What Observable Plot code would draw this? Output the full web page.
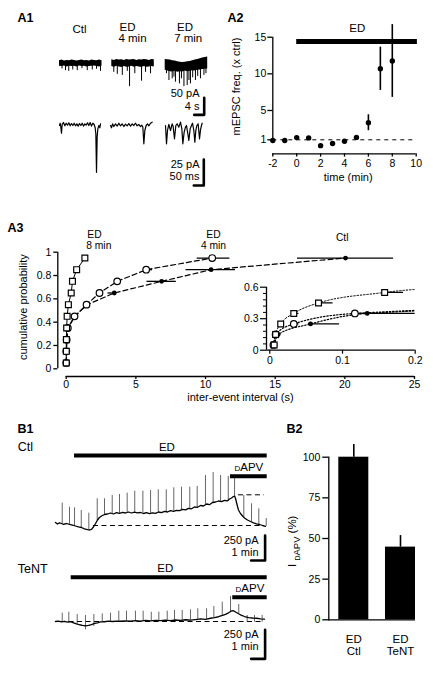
<!DOCTYPE html>
<html><head><meta charset="utf-8">
<script src="https://cdn.jsdelivr.net/npm/d3@7"></script>
<script src="https://cdn.jsdelivr.net/npm/@observablehq/plot@0.6"></script>
<style>
body{margin:0;background:#fff}
#fig{position:relative;width:433px;height:674px;background:#fff}
#fig svg{position:absolute;left:0;top:0;overflow:visible}
</style></head><body><div id="fig"></div>
<script>
// ---------------- DATA ----------------
// A1 slow sweeps (time s, current pA): noise band edges and downward events
const a1BandTime = [0,1,2,3,4,5,6,7,8,9,10,11,12,13,14,15,16,17];
const a1CtlHi = [8,10,7,9,8,10,9,7,9,10,8,9,7,10,9,8,10,8];
const a1CtlLo = [-8,-9,-7,-10,-8,-9,-8,-10,-7,-9,-8,-10,-9,-8,-7,-9,-10,-8];
const a1Ed4Hi = [11,9,12,10,11,9,12,10,11,12,9,11,10,12,11,9,12,11];
const a1Ed4Lo = [-9,-11,-8,-10,-12,-9,-11,-10,-8,-11,-9,-10,-12,-9,-11,-10,-9,-10];
const a1Ed7Hi = [12,11,10,8,7,5,4,3,4,5,6,8,10,12,14,16,18,19];
const a1Ed7Lo = [-20,-22,-24,-25,-23,-26,-24,-25,-22,-24,-23,-21,-22,-20,-19,-18,-17,-16];
const a1CtlSpikeT = [1.0,2.4,3.7,5.3,7.1,9.0,11.1,13.1,14.8,16.4];
const a1CtlSpikeA = [-16,-21,-23,-19,-21,-15,-21,-19,-17,-23];
const a1Ed4SpikeT = [0.8,2.2,4.2,6.2,7.1,9.2,11.9,13.5,15.5];
const a1Ed4SpikeA = [-26,-32,-35,-23,-68,-30,-52,-26,-30];
const a1Ed7SpikeT = [0.5,1.5,2.8,3.5,4.1,5.7,6.5,7.5,8.8,9.5,10.1,11,12.1,13,14.1,15.5,16.3];
const a1Ed7SpikeA = [-30,-50,-45,-40,-55,-60,-45,-68,-65,-50,-60,-42,-50,-38,-45,-35,-30];
// A1 fast sweeps (time ms, current pA)
const a1CtlFastT = [0,3.3,6.7,10,13.3,20,26.7,33.3,40,46.7,53.3,60,66.7,73.3,80,86.7,93.3,100,106.7,113.3,120,126.7,133.3,140,146.7,153.3,160,166.7,173.3,178.3,181.7,185,188.3,191.7,196.7,201.7,205];
const a1CtlFastI = [0,2.2,-1.6,-7.4,1,2.9,-0.3,2.2,0.3,2.6,-0.3,1.9,0,2.2,-0.3,1.6,-0.6,1.9,0,2.2,-0.6,1.6,0.3,2.6,0,2.9,-0.6,2.2,1,-2.2,-8,-45,-11.2,-3.2,0,-2.2,1.6];
const a1Ed4FastT = [0,5,10,16.7,25,33.3,41.7,50,58.3,66.7,75,83.3,91.7,100,108.3,116.7,125,133.3,141.7,150,156.7,161.7,166.7,171.7,178.3,185,191.7,200,208.3];
const a1Ed4FastI = [0,-2.2,1.6,-1,1.6,-0.6,2.2,-0.3,1.6,-1,1.3,-0.3,1.9,-0.6,1.6,0,2.2,-0.3,1,-1,0.3,-1.6,-17.6,-4.8,0,1.6,-0.3,2.2,3.2];
const a1Ed7FastT = [0,5,10,16.7,25,33.3,38.3,45,51.7,58.3,66.7,75,81.7,86.7,93.3,100,105,111.7,116.7,123.3,130,135,141.7,146.7,151.7,156.7,163.3,170,175,180,183.3];
const a1Ed7FastI = [0,-17.6,-4.8,1,-4.8,1.6,-1,-12.8,0,1.6,-1.6,3.2,-3.2,-17.6,-6.4,-1.6,0,-8,-14.4,-3.2,0,2.2,-4.8,-16,-4.8,0,1.6,-12.8,-4.2,0,2.2];
const a1SlowBar = {pA: 50, s: 4};
const a1FastBar = {pA: 25, ms: 50};

// A2 mEPSC frequency (x ctrl) vs time (min)
const a2Time = [-2,-1,0,1,2,3,4,5,6,7,8];
const a2Freq = [0.9,0.9,1.3,1.26,0.2,0.5,0.8,1.33,3.33,10.7,11.76];
const a2Lo   = [0.9,0.9,1.3,1.26,0.2,0.5,0.8,1.33,2.24,7.74,6.79];
const a2Hi   = [0.9,0.9,1.3,1.26,0.2,0.5,0.8,1.33,4.41,13.64,16.72];
const a2EdStart = 0, a2EdEnd = 10.1;

// A3 cumulative probability vs inter-event interval (s)
const a3Prob  = [0.05,0.15,0.25,0.35,0.45,0.55,0.65,0.75,0.85,0.95];
const a3Ed8   = [0.006,0.008,0.015,0.033,0.067,0.158,0.36,0.45,0.75,1.34];
const a3Ed8Hi = [0.006,0.008,0.017,0.04,0.087,0.184,0.4,0.5,0.8,1.4];
const a3Ed4   = [0.005,0.008,0.033,0.117,0.6,1.46,2.39,3.66,5.74,10.48];
const a3Ed4Lo = [0.005,0.008,0.033,0.117,0.55,1.4,2.3,3.5,5.6,9.4];
const a3Ed4Hi = [0.005,0.008,0.04,0.125,0.7,1.6,2.6,3.9,6.2,11.75];
const a3Ctl   = [0.006,0.0115,0.056,0.134,0.62,1.5,3.45,6.85,10.4,20.05];
const a3CtlLo = [0.006,0.0115,0.053,0.125,0.62,1.5,3.0,5.8,8.6,16.6];
const a3CtlHi = [0.006,0.0115,0.096,0.24,0.62,1.5,3.6,7.9,12.15,23.5];

// B1 holding current traces (time min, current pA)
const b1CtlT = [0,.14,.29,.43,.57,.79,1.0,1.21,1.43,1.64,1.86,2.07,2.29,2.43,2.57,2.71,2.86,3.0,3.14,3.29,3.5,3.71,3.93,4.14,4.36,4.57,4.79,5.0,5.21,5.43,5.64,5.86,6.07,6.29,6.5,6.71,6.93,7.14,7.36,7.57,7.79,8.0,8.21,8.43,8.64,8.86,9.07,9.29,9.5,9.71,9.93,10.14,10.36,10.57,10.79,11.0,11.21,11.43,11.64,11.86,12.07,12.29,12.43,12.57,12.71,12.79,12.86,12.93,13.0,13.07,13.21,13.36,13.5,13.71,13.93,14.14,14.36,14.57,14.79,15.0];
const b1CtlI = [7,-8,4,-3,-11,-3,-12,-19,-28,-36,-43,-56,-65,-68,-61,-38,-3,32,57,72,87,92,102,92,105,99,109,102,112,102,111,103,107,97,105,95,104,99,112,105,119,112,125,119,129,125,139,134,149,144,162,159,177,172,192,185,207,212,222,215,229,224,242,252,267,272,247,207,167,132,97,72,52,32,17,4,-6,-13,-23,-31];
const b1CtlSpikeT = [0.48,1.0,1.36,1.84,2.38,2.98,3.5,4.05,4.57,5.12,5.66,6.24,6.79,7.34,7.91,8.45,9.0,9.59,10.12,10.71,11.26,11.79,12.34,12.79,13.45,14.0,14.52,15.05];
const b1CtlSpikeTop = [200,160,154,127,100,244,244,277,287,300,320,320,327,334,334,354,360,360,367,477,507,477,467,457,277,194,144,47];
const b1TenT = [0,.21,.43,.64,.86,1.07,1.29,1.5,1.71,1.93,2.14,2.36,2.57,2.79,3.0,3.21,3.5,3.79,4.07,4.36,4.64,5.0,5.36,5.71,6.07,6.43,6.79,7.14,7.5,7.86,8.21,8.57,8.93,9.29,9.64,10.0,10.36,10.71,11.07,11.36,11.64,11.93,12.14,12.36,12.57,12.71,12.86,13.07,13.29,13.5,13.79,14.07,14.36,14.64,14.93];
const b1TenI = [0,4,-4,2,-5,-2,-11,-20,-28,-33,-37,-33,-26,-17,-11,-4,-2,3,0,4,2,6,3,7,3,9,5,10,7,11,8,13,9,15,12,17,22,19,28,34,41,52,62,75,91,93,82,67,53,43,34,30,28,23,20];
const b1TenSpikeT = [0.48,0.95,1.55,2.14,2.74,3.34,3.93,4.52,5.07,5.71,6.26,6.84,7.38,7.98,8.5,9.05,9.64,10.16,10.79,11.31,11.91,12.5,13.09,13.69,14.21,14.76];
const b1TenSpikeTop = [72,80,60,52,60,66,72,89,89,89,89,80,80,89,95,95,101,109,109,129,166,216,147,52,52,52];
const b1TenDownT = [1.55,2.14,2.74,13.69,14.21,14.76];
const b1TenDownLo = [-30,-72,-43,-6,-6,-6];
const b1CtlEd = [1.36, 15.12], b1CtlApv = [12.5, 15.12];
const b1TenEd = [1.12, 15.12], b1TenApv = [12.66, 15.12];
const b1Bar = {pA: 250, min: 1};

// B2 I_DAPV (%)
const b2Groups = ["ED Ctl", "ED TeNT"];
const b2Mean = [100, 44.7];
const b2Sem = [7.8, 7.1];

// ---------------- RENDER ----------------
const W = 433, H = 674;
const FONT = '"Liberation Sans", Arial, Helvetica, sans-serif';
const fig = document.getElementById("fig");
const rows = (cols) => { const k = Object.keys(cols); return cols[k[0]].map((_, j) => Object.fromEntries(k.map(n => [n, cols[n][j]]))); };
function draw(opts) {
  const svg = Plot.plot(Object.assign({
    width: W, height: H, marginTop: 0, marginRight: 0, marginBottom: 0, marginLeft: 0,
    style: {background: "transparent", fontFamily: FONT, fontSize: "10.5px", color: "#000", overflow: "visible"}
  }, opts));
  svg.style.position = "absolute"; svg.style.left = "0px"; svg.style.top = "0px";
  fig.appendChild(svg);
}
function interp(ts, vs, t) {
  const j = d3.bisectLeft(ts, t);
  if (j <= 0) return vs[0];
  if (j >= ts.length) return vs[vs.length - 1];
  const f = (t - ts[j-1]) / (ts[j] - ts[j-1]);
  return vs[j-1] + f * (vs[j] - vs[j-1]);
}

// ---- A1 ----
const a1TopY = {axis: null, domain: [-80, 30], range: [63 + 80*0.34, 63 - 30*0.34]};
const a1BotY = {axis: null, domain: [-50, 10], range: [125 + 50*1.04, 125 - 10*1.04]};
const a1Cols = [
  {x0: 59,    hi: a1CtlHi, lo: a1CtlLo, st: a1CtlSpikeT, sa: a1CtlSpikeA, b0: 59,  ft: a1CtlFastT, fi: a1CtlFastI},
  {x0: 111.3, hi: a1Ed4Hi, lo: a1Ed4Lo, st: a1Ed4SpikeT, sa: a1Ed4SpikeA, b0: 110, ft: a1Ed4FastT, fi: a1Ed4FastI},
  {x0: 164.7, hi: a1Ed7Hi, lo: a1Ed7Lo, st: a1Ed7SpikeT, sa: a1Ed7SpikeA, b0: 165, ft: a1Ed7FastT, fi: a1Ed7FastI}
];
a1Cols.forEach((c, k) => {
  const last = k === 2;
  const sx = 15.6, sy = -151; // scale-bar anchor (s, pA)
  draw({
    x: {axis: null, domain: [0, 17], range: [c.x0, c.x0 + 42.5]}, y: a1TopY,
    marks: [
      Plot.areaY(rows({t: a1BandTime, hi: c.hi, lo: c.lo}), {x: "t", y1: "lo", y2: "hi", fill: "black"}),
      Plot.ruleX(rows({t: c.st, a: c.sa}), {x: "t", y1: 0, y2: "a", strokeWidth: 1}),
      last ? Plot.line([{t: sx - a1SlowBar.s, a: sy}, {t: sx, a: sy}, {t: sx, a: sy + a1SlowBar.pA}], {x: "t", y: "a", strokeWidth: 2.6}) : null
    ]
  });
  const fx = 191.5, fy = -57.7; // scale-bar anchor (ms, pA)
  draw({
    x: {axis: null, domain: [0, 205], range: [c.b0, c.b0 + 41]}, y: a1BotY,
    marks: [
      Plot.line(rows({t: c.ft, i: c.fi}), {x: "t", y: "i", strokeWidth: 1.2}),
      last ? Plot.line([{t: fx - a1FastBar.ms, a: fy}, {t: fx, a: fy}, {t: fx, a: fy + a1FastBar.pA}], {x: "t", y: "a", strokeWidth: 2.6}) : null
    ]
  });
});

// ---- A2 ----
const a2 = rows({t: a2Time, f: a2Freq, lo: a2Lo, hi: a2Hi});
draw({
  marginLeft: 272.3, marginTop: 36.7, marginRight: W - 415.7, marginBottom: H - 153.3,
  x: {domain: [-2, 10], range: [272.3, 415.7]},
  y: {domain: [1, 15], range: [139.3, 36.7]},
  marks: [
    Plot.ruleX([-2], {y1: 1, y2: 15, strokeWidth: 1.3}),
    Plot.ruleY([1], {dy: 14, strokeWidth: 1.3}),
    Plot.axisY({anchor: "left", ticks: [1, 5, 10, 15], tickSize: 5, tickPadding: 1.5, label: null, fontSize: 10.5, strokeWidth: 1.3, tickFormat: d => String(d)}),
    Plot.axisX({anchor: "bottom", ticks: [-2, 0, 2, 4, 6, 8, 10], tickSize: 3.3, tickPadding: 2.5, label: null, fontSize: 10.5, strokeWidth: 1.3, tickFormat: d => String(d)}),
    Plot.ruleY([1], {x1: -2, x2: 10, strokeDasharray: "4,4", strokeWidth: 1}),
    Plot.ruleY([14.4], {x1: a2EdStart, x2: a2EdEnd, strokeWidth: 5}),
    Plot.ruleX(a2, {x: "t", y1: "lo", y2: "hi", strokeWidth: 1.6}),
    Plot.dot(a2, {x: "t", y: "f", r: 2.7, fill: "black"})
  ]
});

// ---- A3 ----
const ed8 = rows({x: a3Ed8, p: a3Prob, lo: a3Ed8, hi: a3Ed8Hi});
const ed4 = rows({x: a3Ed4, p: a3Prob, lo: a3Ed4Lo, hi: a3Ed4Hi});
const ctl = rows({x: a3Ctl, p: a3Prob, lo: a3CtlLo, hi: a3CtlHi});
function a3Marks(lineDash, curve, clip) {
  return [
    Plot.line(ctl, {x: "x", y: "p", strokeDasharray: lineDash, strokeWidth: 1.2, curve, clip}),
    Plot.line(ed4, {x: "x", y: "p", strokeDasharray: lineDash, strokeWidth: 1.2, curve, clip}),
    Plot.line(ed8, {x: "x", y: "p", strokeDasharray: clip ? lineDash : null, strokeWidth: 1, curve, clip}),
    Plot.ruleY(ctl, {y: "p", x1: "lo", x2: "hi", strokeWidth: 1.3, clip}),
    Plot.ruleY(ed4, {y: "p", x1: "lo", x2: "hi", strokeWidth: 1.3, clip}),
    Plot.ruleY(ed8, {y: "p", x1: "lo", x2: "hi", strokeWidth: 1.3, clip}),
    Plot.dot(ctl, {x: "x", y: "p", r: 2.4, fill: "black", clip}),
    Plot.dot(ed4, {x: "x", y: "p", r: 3.3, fill: "white", stroke: "black", strokeWidth: 1.2, clip}),
    Plot.dot(ed8, {x: "x", y: "p", symbol: "square", r: 3.3, fill: "white", stroke: "black", strokeWidth: 1.2, clip})
  ];
}
draw({
  marginLeft: 57.3, marginTop: 251.7, marginRight: W - 414, marginBottom: H - 376,
  x: {domain: [0, 25], range: [65.7, 414]},
  y: {domain: [0, 1], range: [368.3, 251.7]},
  marks: [
    Plot.ruleX([0], {y1: 0, y2: 1, dx: -8.4, strokeWidth: 1.3}),
    Plot.ruleY([0], {x1: 0, x2: 25, dy: 7.7, strokeWidth: 1.3}),
    Plot.axisY({anchor: "left", ticks: [0, .2, .4, .6, .8, 1], tickSize: 4, tickPadding: 2.5, label: null, fontSize: 10.5, strokeWidth: 1.3, tickFormat: d => String(d)}),
    Plot.axisX({anchor: "bottom", ticks: [0, 5, 10, 15, 20, 25], tickSize: 3, tickPadding: 1.5, label: null, fontSize: 10.5, strokeWidth: 1.3, tickFormat: d => String(d)}),
    ...a3Marks("5,3", "linear", false)
  ]
});
// inset
draw({
  marginLeft: 266, marginTop: 286.7, marginRight: W - 414.7, marginBottom: H - 349.7,
  x: {domain: [0, 0.2], range: [269.3, 414.7]},
  y: {domain: [0, 0.6], range: [349.7, 286.7]},
  marks: [
    ...a3Marks("1.5,1.8", "monotone-x", true),
    Plot.ruleX([0], {y1: 0, y2: 0.6, dx: -3.3, strokeWidth: 1.3}),
    Plot.ruleY([0], {strokeWidth: 1.3}),
    Plot.axisY({anchor: "left", ticks: [0, 0.3, 0.6], tickSize: 6, tickPadding: 2, label: null, fontSize: 10.5, strokeWidth: 1.2, tickFormat: d => String(d)}),
    Plot.axisY({anchor: "left", ticks: [0.06, 0.12, 0.18, 0.24, 0.36, 0.42, 0.48, 0.54], tickSize: 3, label: null, strokeWidth: 1, tickFormat: () => ""}),
    Plot.axisX({anchor: "bottom", ticks: [0, 0.1, 0.2], tickSize: 4, tickPadding: 2.5, label: null, fontSize: 10.5, strokeWidth: 1.2, tickFormat: d => String(d)})
  ]
});

// ---- B1 ----
function b1Panel(o) {
  const trace = rows({t: o.T, i: o.I});
  const spikes = o.ST.map((t, j) => ({t, base: interp(o.T, o.I, t), top: o.STop[j]}));
  const downs = o.DT ? o.DT.map((t, j) => ({t, base: interp(o.T, o.I, t), lo: o.DLo[j]})) : [];
  const bx = 14.97, by = o.barTop;
  draw({
    x: {axis: null, domain: [0, 15.07], range: [55, 266]},
    y: {axis: null, domain: [0, 100], range: [o.base, o.base - 100 / o.pApx]},
    marks: [
      Plot.ruleX(spikes, {x: "t", y1: "base", y2: "top", stroke: "#555", strokeWidth: 0.9}),
      Plot.ruleX(downs, {x: "t", y1: "base", y2: "lo", stroke: "#555", strokeWidth: 0.9}),
      ...o.dashes.map(d => Plot.ruleY([d.y], {x1: d.x1, x2: d.x2, strokeDasharray: "5,3.5", strokeWidth: 1})),
      Plot.line(trace, {x: "t", y: "i", strokeWidth: 1.3}),
      Plot.ruleY([o.edY], {x1: o.ed[0], x2: o.ed[1], strokeWidth: 4}),
      Plot.ruleY([o.apvY], {x1: o.apv[0], x2: o.apv[1], strokeWidth: 4}),
      Plot.text(["ED"], {x: (o.ed[0] + o.ed[1]) / 2, y: o.edY, dx: -4, dy: -8.5, text: d => d, fontSize: 11.5}),
      Plot.text(["dAPV"], {x: (o.apv[0] + o.apv[1]) / 2, y: o.apvY, dy: -8.5, text: d => d, fontSize: 11.5, fontVariant: "small-caps"}),
      Plot.line([{t: bx - b1Bar.min, i: by - b1Bar.pA}, {t: bx, i: by - b1Bar.pA}, {t: bx, i: by}], {x: "t", y: "i", strokeWidth: 2.6}),
      Plot.text(["250 pA"], {x: 14.5, y: by, dy: 4.5, text: d => d, textAnchor: "end", fontSize: 11}),
      Plot.text(["1 min"], {x: 14.5, y: by, dy: 17, text: d => d, textAnchor: "end", fontSize: 11})
    ]
  });
}
b1Panel({T: b1CtlT, I: b1CtlI, ST: b1CtlSpikeT, STop: b1CtlSpikeTop, base: 522.7, pApx: 10,
  ed: b1CtlEd, apv: b1CtlApv, edY: 677, apvY: 470, barTop: -123,
  dashes: [{y: -23, x1: 2.71, x2: 14.93}, {y: 284, x1: 13.07, x2: 14.93}]});
b1Panel({T: b1TenT, I: b1TenI, ST: b1TenSpikeT, STop: b1TenSpikeTop, DT: b1TenDownT, DLo: b1TenDownLo, base: 621, pApx: 250 / 29,
  ed: b1TenEd, apv: b1TenApv, edY: 382, apvY: 209, barTop: -72,
  dashes: [{y: 0, x1: 0.36, x2: 14.93}]});

// ---- B2 ----
const b2 = rows({g: b2Groups, m: b2Mean, s: b2Sem});
draw({
  marginLeft: 328.3, marginTop: 456.7, marginRight: W - 415, marginBottom: H - 619.3,
  x: {type: "band", domain: b2Groups, range: [338.3, 415], paddingInner: 0.357, paddingOuter: 0, round: false},
  y: {domain: [0, 100], range: [619.3, 456.7]},
  marks: [
    Plot.barY(b2, {x: "g", y: "m", fill: "black"}),
    Plot.ruleX(b2, {x: "g", y1: "m", y2: d => d.m + d.s, strokeWidth: 1.6}),
    Plot.ruleY([0], {strokeWidth: 1.3}),
    Plot.frame({anchor: "left", strokeWidth: 1.3}),
    Plot.axisY({anchor: "left", ticks: [0, 25, 50, 75, 100], tickSize: 6, tickPadding: 2.5, label: null, fontSize: 10.5, strokeWidth: 1.3}),
    Plot.axisX({anchor: "bottom", tickSize: 0, tickPadding: 14, label: null, fontSize: 11.5, lineHeight: 1.1, tickFormat: d => d.replace(" ", "\n")})
  ]
});

// ---- annotations (panel letters, condition labels, axis titles) ----
const T = (list, opts) => Plot.text(list, {x: "x", y: "y", text: "t", ...opts});
draw({
  x: {axis: null, domain: [0, W], range: [0, W]}, y: {axis: null, domain: [0, H], range: [0, H]},
  marks: [
    T([{t: "A1", x: 17, y: 17}, {t: "A2", x: 227, y: 17}, {t: "A3", x: 7, y: 227}, {t: "B1", x: 17, y: 428}, {t: "B2", x: 286, y: 428}],
      {textAnchor: "start", fontSize: 12.5, fontWeight: "bold"}),
    T([{t: "Ctl", x: 79, y: 29.3}, {t: "ED", x: 127, y: 26.7}, {t: "4 min", x: 132, y: 38.3}, {t: "ED", x: 184.5, y: 26.7}, {t: "7 min", x: 187.7, y: 38.3},
       {t: "ED", x: 356.7, y: 28.3}], {fontSize: 11.5}),
    T([{t: "ED", x: 94, y: 234}, {t: "8 min", x: 98.3, y: 245.5}, {t: "ED", x: 213, y: 234}, {t: "4 min", x: 213, y: 245.5}, {t: "Ctl", x: 341.7, y: 237.5}],
      {fontSize: 10.3}),
    T([{t: "50 pA", x: 199, y: 93.3}, {t: "4 s", x: 199, y: 106}, {t: "25 pA", x: 199, y: 164.3}, {t: "50 ms", x: 199, y: 175.7}],
      {textAnchor: "end", fontSize: 11}),
    T([{t: "mEPSC freq. (x ctrl)", x: 236, y: 86}, {t: "cumulative probability", x: 22.7, y: 306.7}], {rotate: -90, fontSize: 11}),
    T([{t: "time (min)", x: 347.7, y: 176.7}, {t: "inter-event interval (s)", x: 240, y: 397.3}], {fontSize: 11}),
    T([{t: "Ctl", x: 17.3, y: 446.7}, {t: "TeNT", x: 17.3, y: 568.3}], {textAnchor: "start", fontSize: 12.5}),
    T([{t: "I", x: 292, y: 565}, {t: "(%)", x: 292, y: 524}], {rotate: -90, fontSize: 11.5}),
    T([{t: "dAPV", x: 296, y: 548}], {rotate: -90, fontSize: 9.5, fontVariant: "small-caps"})
  ]
});
</script></body></html>
